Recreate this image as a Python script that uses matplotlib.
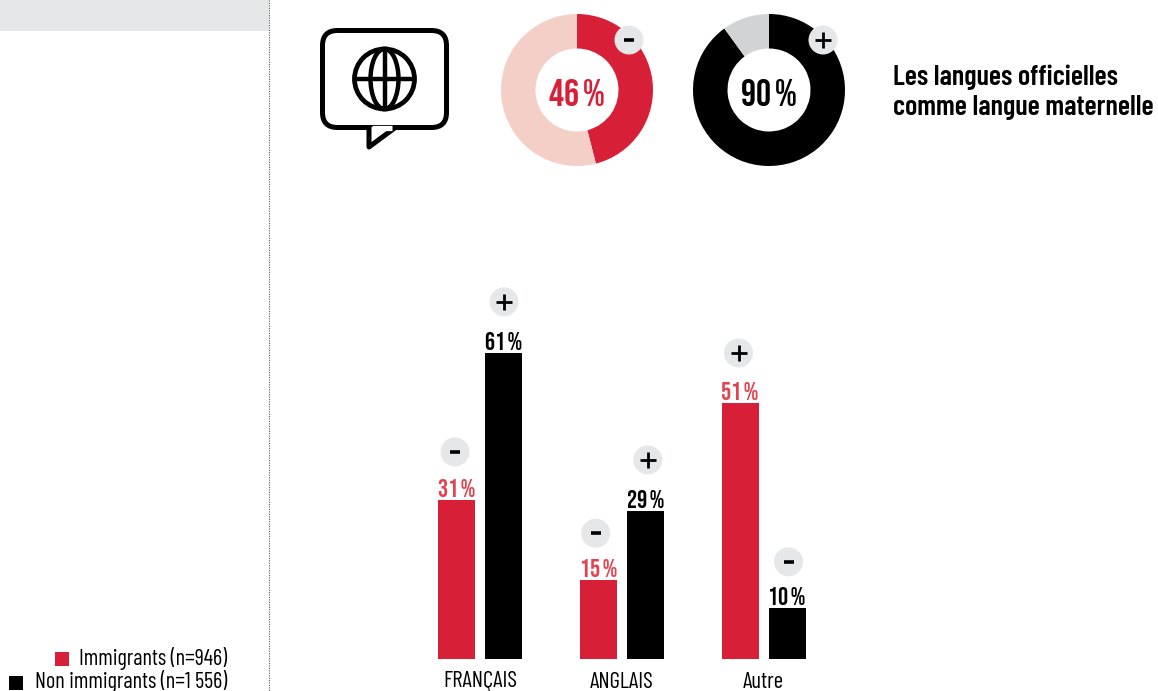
import matplotlib
matplotlib.use('Agg')
import matplotlib.pyplot as plt
from matplotlib.patches import Circle, Ellipse, FancyBboxPatch, Polygon, Rectangle

# data
categories = ['FRANÇAIS', 'ANGLAIS', 'Autre']
immigrants = [31.7, 15.7, 51]
non_immigrants = [61, 29.5, 10.2]
immigrants_labels = ['31\u200a%', '15\u200a%', '51\u200a%']
non_immigrants_labels = ['61\u200a%', '29\u200a%', '10\u200a%']
immigrants_signs = ['-', '-', '+']
non_immigrants_signs = ['+', '+', '-']
donut_immigrants = [46, 54]
donut_non_immigrants = [90, 10]
donut_labels = ['46\u200a%', '90\u200a%']
legend_labels = ['Immigrants (n=946)', 'Non immigrants (n=1 556)']
title_lines = ['Les langues officielles', 'comme langue maternelle']

RED = '#d81f38'
LABEL_RED = '#e2434f'
PALE = '#f4cfc7'
GREY = '#d1d3d4'
BADGE = '#e6e7e8'
COND = ['Barlow Condensed', 'Roboto', 'DejaVu Sans']
NUM = ['Bebas Neue', 'Barlow Condensed', 'Roboto', 'DejaVu Sans']
W, H = 1158, 691

plt.rcParams['font.family'] = COND

fig = plt.figure(figsize=(W / 100, H / 100), dpi=100)

# overlay in pixel coordinates for the decoration
deco = fig.add_axes([0, 0, 1, 1], zorder=5)
deco.set_xlim(0, W)
deco.set_ylim(H, 0)
deco.axis('off')


def pixel_axes(left, top, right, bottom):
    return fig.add_axes([left / W, 1 - bottom / H, (right - left) / W, (bottom - top) / H])


def badge(x, y, sign):
    deco.add_patch(Circle((x, y), 14.5, color=BADGE, lw=0, zorder=3))
    if sign == '+':
        deco.plot([x - 8, x + 8], [y, y], color='black', lw=2, zorder=4, solid_capstyle='butt')
        deco.plot([x, x], [y - 8, y + 8], color='black', lw=2, zorder=4, solid_capstyle='butt')
    else:
        deco.plot([x - 5, x + 5], [y, y], color='black', lw=2.6, zorder=4, solid_capstyle='butt')


# side panel
deco.add_patch(Rectangle((0, 0), 269, 31, color=BADGE, lw=0))
deco.plot([269, 269], [0, H], color='#555555', lw=0.8, ls=(0, (1, 1.2)))

# speech bubble
deco.add_patch(FancyBboxPatch((322.5, 30.5), 124, 97, boxstyle='round,pad=0,rounding_size=15',
                              fc='none', ec='black', lw=3.6))
deco.add_patch(Polygon([[369, 127], [369, 147], [396, 127]], closed=False, fc='white', ec='black', lw=3.6,
                       joinstyle='round', zorder=3))
deco.plot([371.5, 392], [127.5, 127.5], color='white', lw=3.8, zorder=4, solid_capstyle='butt')

# globe
deco.add_patch(Circle((384.5, 79), 30, fc='none', ec='black', lw=3.4))
deco.add_patch(Ellipse((384.5, 79), 28, 60, fc='none', ec='black', lw=3.2))
deco.plot([384.5, 384.5], [49, 109], color='black', lw=3.2)
deco.plot([355, 414], [79, 79], color='black', lw=3.2)

# donuts
for values, colors, cx, txt, col, sign, bx in [
        (donut_immigrants, [RED, PALE], 577, donut_labels[0], RED, '-', 629),
        (donut_non_immigrants, ['black', GREY], 769, donut_labels[1], 'black', '+', 823)]:
    ax = pixel_axes(cx - 77, 13, cx + 77, 167)
    ax.pie(values, colors=colors, startangle=90, counterclock=False, radius=76 / 77,
           wedgeprops={'width': 34.5 / 77, 'linewidth': 0})
    ax.set_xlim(-1, 1)
    ax.set_ylim(-1, 1)
    ax.text(0, -0.03, txt, ha='center', va='center', fontsize=27, color=col, family=NUM)
    badge(bx, 40, sign)

# title
for i, line in enumerate(title_lines):
    deco.text(893, 77 + i * 30.5, line, fontsize=20.4, fontweight='semibold', va='center', ha='left',
              color='black')

# bars
STEP = 141.75
ax = pixel_axes(400, 259, 840, 659)
ax.set_xlim((400 - 480) / STEP, (840 - 480) / STEP)
ax.set_ylim(0, 400 / 5.02)
positions = list(range(len(categories)))
off = 23.5 / STEP
width = 37 / STEP
red_bars = ax.bar([p - off for p in positions], immigrants, width, color=RED)
black_bars = ax.bar([p + off for p in positions], non_immigrants, width, color='black')
ax.set_xticks(positions)
ax.set_xticklabels(categories, fontsize=16.5)
ax.tick_params(axis='x', length=0, pad=9)
ax.set_yticks([])
for s in ax.spines.values():
    s.set_visible(False)
ax.patch.set_alpha(0)

# badge offset from the top centre of its bar (px)
red_shift = [(-1.5, 48), (-2.5, 47), (-1.5, 50)]
black_shift = [(0.5, 51), (2.5, 51), (1.5, 46)]
for bars, vals, labels, signs, col, shifts in [
        (red_bars, immigrants, immigrants_labels, immigrants_signs, LABEL_RED, red_shift),
        (black_bars, non_immigrants, non_immigrants_labels, non_immigrants_signs, 'black', black_shift)]:
    for b, v, txt, sign, (dx, dy) in zip(bars, vals, labels, signs, shifts):
        ax.annotate(txt, (b.get_x() + b.get_width() / 2, v), xytext=(0, 2),
                    textcoords='offset points', ha='center', va='bottom',
                    fontsize=18, color=col, family=NUM)
        px = ax.transData.transform((b.get_x() + b.get_width() / 2, v))
        badge(px[0] + dx, H - px[1] - dy, sign)

# legend
for i, label in enumerate(legend_labels):
    y = 658 + i * 23.5
    deco.text(227, y, label, fontsize=16, ha='right', va='center', color='black')
deco.add_patch(Rectangle((55, 651.5), 14, 14, color=RED, lw=0))
deco.add_patch(Rectangle((9, 675.5), 14, 14, color='black', lw=0))

plt.savefig('out.png', dpi=100)
